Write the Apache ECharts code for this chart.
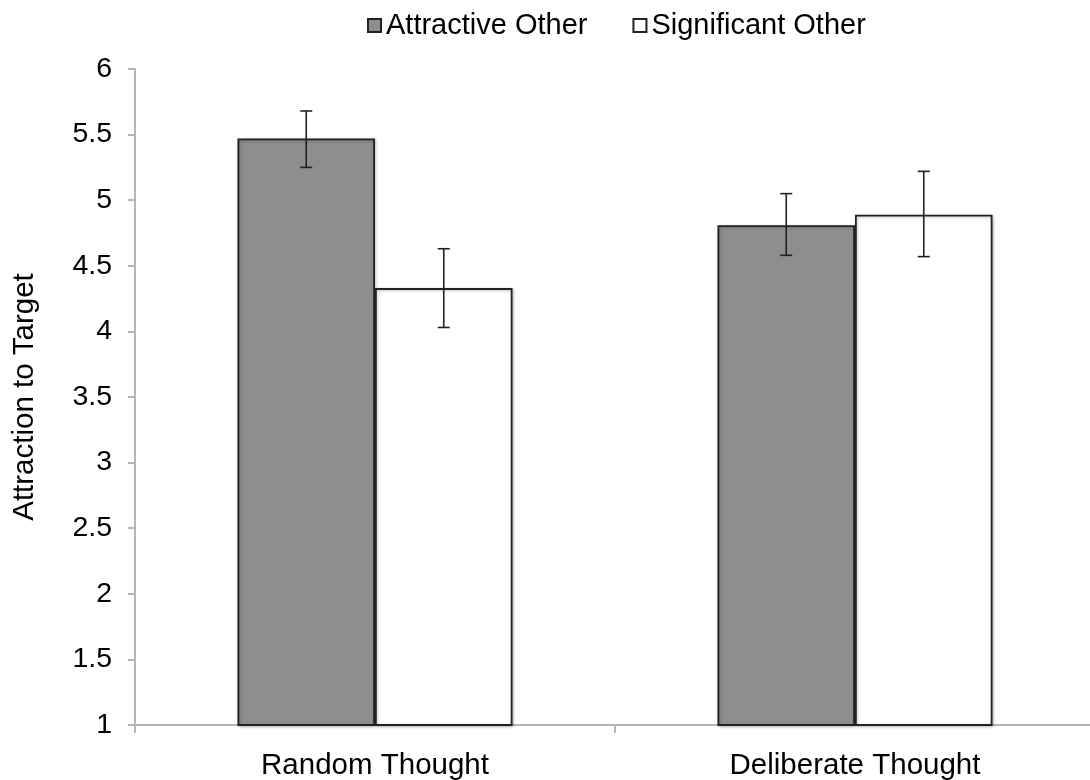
<!DOCTYPE html>
<html>
<head>
<meta charset="utf-8">
<script src="https://cdn.jsdelivr.net/npm/echarts@6/dist/echarts.min.js"></script>
<style>
html,body{margin:0;padding:0;background:#fff;}
#chart{width:1090px;height:780px;}
</style>
</head>
<body>
<div id="chart"></div>
<script>
var categories = ['Random Thought', 'Deliberate Thought'];
var seriesNames = ['Attractive Other', 'Significant Other'];
var attractive = [5.47, 4.81];
var attractiveLow = [5.25, 4.58];
var attractiveHigh = [5.68, 5.05];
var significant = [4.33, 4.89];
var significantLow = [4.03, 4.57];
var significantHigh = [4.63, 5.22];
var yTicks = [1, 1.5, 2, 2.5, 3, 3.5, 4, 4.5, 5, 5.5, 6];

var FONT = 'Liberation Sans, Arial, Helvetica, sans-serif';
var BAR_FRAC = 0.2865;

function errData(low, high) {
  return categories.map(function (c, i) { return [i, low[i], high[i]]; });
}
function errSeries(name, low, high, side) {
  return {
    type: 'custom',
    name: name + ' error',
    silent: true,
    z: 10,
    data: errData(low, high),
    renderItem: function (params, api) {
      var idx = api.value(0);
      var band = api.size([1, 0])[0];
      var off = side * band * BAR_FRAC / 2;
      var pLow = api.coord([idx, api.value(1)]);
      var pHigh = api.coord([idx, api.value(2)]);
      var x = pLow[0] + off;
      var cap = 6;
      var style = { stroke: '#222', lineWidth: 1.6 };
      return {
        type: 'group',
        children: [
          { type: 'line', shape: { x1: x, y1: pLow[1], x2: x, y2: pHigh[1] }, style: style },
          { type: 'line', shape: { x1: x - cap, y1: pLow[1], x2: x + cap, y2: pLow[1] }, style: style },
          { type: 'line', shape: { x1: x - cap, y1: pHigh[1], x2: x + cap, y2: pHigh[1] }, style: style }
        ]
      };
    }
  };
}

var chart = echarts.init(document.getElementById('chart'));
chart.setOption({
  animation: false,
  backgroundColor: '#fff',
  textStyle: { fontFamily: FONT },
  legend: {
    data: seriesNames,
    left: 362,
    top: 6,
    icon: 'rect',
    itemWidth: 13,
    itemHeight: 13,
    itemGap: 45,
    textStyle: { fontSize: 29, color: '#000', fontFamily: FONT }
  },
  grid: { left: 135, right: -5, top: 69, bottom: 55, containLabel: false, outerBoundsMode: 'none' },
  xAxis: {
    type: 'category',
    data: categories,
    axisLine: { lineStyle: { color: '#b5b5b5', width: 2 } },
    axisTick: { show: true, length: 8, lineStyle: { color: '#b5b5b5', width: 2 } },
    axisLabel: { fontSize: 29.5, color: '#000', margin: 26, fontFamily: FONT }
  },
  yAxis: {
    type: 'value',
    min: 1,
    max: 6,
    interval: 0.5,
    name: 'Attraction to Target',
    nameLocation: 'middle',
    nameGap: 95,
    nameRotate: 90,
    nameTextStyle: { fontSize: 29.5, color: '#000', fontFamily: FONT },
    axisLine: { show: true, lineStyle: { color: '#b5b5b5', width: 2 } },
    axisTick: { show: true, length: 7, lineStyle: { color: '#b5b5b5', width: 2 } },
    axisLabel: {
      fontSize: 28.5, color: '#000', margin: 23, fontFamily: FONT,
      formatter: function (v) { return yTicks.indexOf(v) >= 0 ? String(v) : ''; }
    },
    splitLine: { show: false }
  },
  series: [
    {
      name: seriesNames[0],
      type: 'bar',
      data: attractive,
      barWidth: (BAR_FRAC * 100) + '%',
      barGap: '0%',
      itemStyle: {
        color: '#8e8e8e', borderColor: '#222', borderWidth: 1.8,
        shadowColor: 'rgba(0,0,0,0.25)', shadowBlur: 3, shadowOffsetX: 1, shadowOffsetY: 1
      }
    },
    {
      name: seriesNames[1],
      type: 'bar',
      data: significant,
      barWidth: (BAR_FRAC * 100) + '%',
      barGap: '0%',
      itemStyle: {
        color: '#ffffff', borderColor: '#222', borderWidth: 1.8,
        shadowColor: 'rgba(0,0,0,0.25)', shadowBlur: 3, shadowOffsetX: 1, shadowOffsetY: 1
      }
    },
    errSeries(seriesNames[0], attractiveLow, attractiveHigh, -1),
    errSeries(seriesNames[1], significantLow, significantHigh, 1)
  ]
});
</script>
</body>
</html>
